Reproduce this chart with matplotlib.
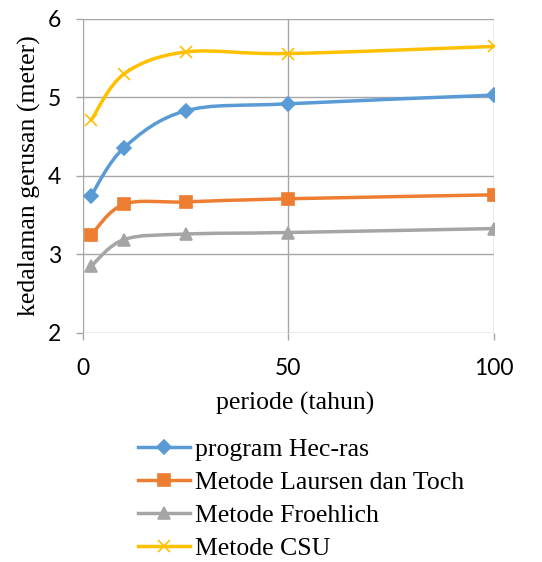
import numpy as np
import matplotlib
matplotlib.use('Agg')
from matplotlib import pyplot as plt
from matplotlib.path import Path
import matplotlib.patches as mpatches

########
# DATA #
########

periode = [2, 10, 25, 50, 100]
hecras = [3.75, 4.36, 4.83, 4.92, 5.03]
laursen = [3.25, 3.64, 3.67, 3.71, 3.76]
froehlich = [2.85, 3.19, 3.26, 3.28, 3.33]
csu = [4.71, 5.30, 5.58, 5.56, 5.65]

labels = ['program Hec-ras', 'Metode Laursen dan Toch',
          'Metode Froehlich', 'Metode CSU']
colors = ['#5B9BD5', '#ED7D31', '#A5A5A5', '#FFC000']
markers = ['D', 's', '^', 'x']
msizes = [7, 9, 8, 9]

def smooth_path(ax, x, y):
    # Excel-style smoothed line: cubic bezier through points (display space)
    pts = ax.transData.transform(np.column_stack([x, y]))
    n = len(pts)
    verts = [pts[0]]
    codes = [Path.MOVETO]
    for i in range(n - 1):
        p0 = pts[max(i - 1, 0)]
        p1 = pts[i]
        p2 = pts[i + 1]
        p3 = pts[min(i + 2, n - 1)]
        c1 = p1 + (p2 - p0) / 6.
        c2 = p2 - (p3 - p1) / 6.
        verts += [c1, c2, p2]
        codes += [Path.CURVE4] * 3
    verts = ax.transData.inverted().transform(np.array(verts))
    return Path(verts, codes)

fig = plt.figure(figsize=(5.42, 5.62), dpi=100)
ax = fig.add_axes([0.153, 0.4075, 0.758, 0.5587])
ax.set_xlim(0, 100)
ax.set_ylim(2, 6)
ax.set_xticks([0, 50, 100])
ax.set_yticks([2, 3, 4, 5, 6])
ax.grid(True, color='#A6A6A6', linewidth=1.0)
ax.set_axisbelow(True)
for s in ax.spines.values():
    s.set_visible(False)
ax.tick_params(axis='both', length=5, width=1.0, color='#A6A6A6',
               labelsize=16.5)
ax.tick_params(axis='x', pad=13)
ax.tick_params(axis='y', pad=10.5)
for t in ax.get_xticklabels() + ax.get_yticklabels():
    t.set_fontfamily('Lato')

series = [hecras, laursen, froehlich, csu]
for i in range(len(series)):
    path = smooth_path(ax, periode, series[i])
    ax.add_patch(mpatches.PathPatch(path, facecolor='none',
                                    edgecolor=colors[i], linewidth=2.5,
                                    capstyle='round', zorder=3))
    ax.plot(periode, series[i], linestyle='none', marker=markers[i],
            markersize=msizes[i], color=colors[i], markeredgewidth=1.2,
            zorder=4)
    # legend handle
    ax.plot([], [], color=colors[i], linewidth=2.5, marker=markers[i],
            markersize=msizes[i], markeredgewidth=1.2, label=labels[i])

ax.set_xlabel('periode (tahun)', fontsize=18.5, fontfamily='Liberation Serif')
ax.set_ylabel('kedalaman gerusan (meter)', fontsize=18.5,
              fontfamily='Liberation Serif')
ax.xaxis.label.set_va('center')
ax.yaxis.label.set_va('center')
ax.xaxis.set_label_coords(0.517, -0.226)
ax.yaxis.set_label_coords(-0.129, 0.5)

handles, labs = ax.get_legend_handles_labels()
fig.legend(handles, labs, loc='upper left', bbox_to_anchor=(0.235, 0.2384),
           frameon=False, prop={'family': 'Liberation Serif', 'size': 18.5},
           handlelength=2.05, handletextpad=0.2, labelspacing=0.385,
           borderaxespad=0)

plt.savefig('out.png', dpi=100)
plt.close()
